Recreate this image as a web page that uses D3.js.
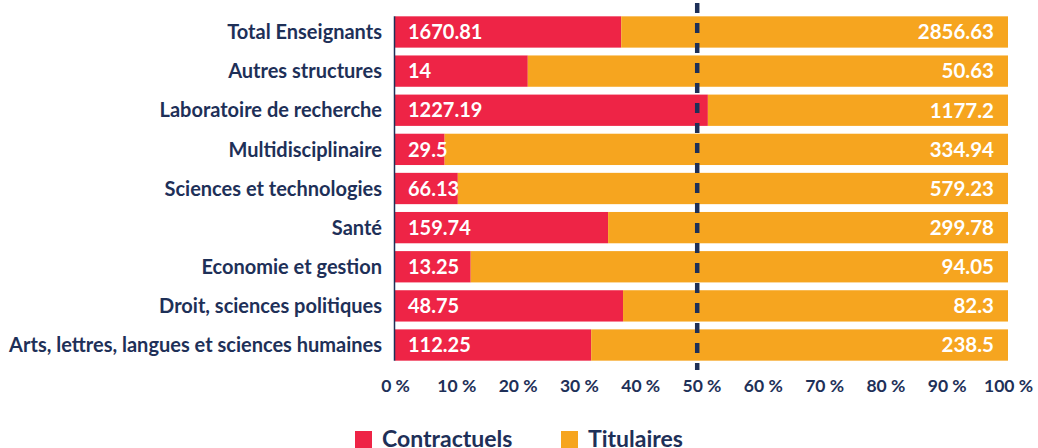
<!DOCTYPE html>
<html>
<head>
<meta charset="utf-8">
<script src="https://cdn.jsdelivr.net/npm/d3@7"></script>
<style>
  html, body { margin: 0; padding: 0; background: #fff; }
  svg { display: block; font-family: Lato, "Open Sans", sans-serif; }
</style>
</head>
<body>
<svg id="chart" width="1038" height="448"></svg>
<script>
const categories = [
  "Total Enseignants",
  "Autres structures",
  "Laboratoire de recherche",
  "Multidisciplinaire",
  "Sciences et technologies",
  "Santé",
  "Economie et gestion",
  "Droit, sciences politiques",
  "Arts, lettres, langues et sciences humaines"
];
const contractuels = [1670.81, 14, 1227.19, 29.5, 66.13, 159.74, 13.25, 48.75, 112.25];
const titulaires   = [2856.63, 50.63, 1177.2, 334.94, 579.23, 299.78, 94.05, 82.3, 238.5];
const seriesNames = ["Contractuels", "Titulaires"];
const tickValues = [0, 0.1, 0.2, 0.3, 0.4, 0.5, 0.6, 0.7, 0.8, 0.9, 1];
const referenceValue = 0.493;

const colors = { Contractuels: "#EE2446", Titulaires: "#F6A51F" };
const navy = "#1E3058";

const rows = categories.map((c, i) => ({ category: c, Contractuels: contractuels[i], Titulaires: titulaires[i] }));
const stacked = d3.stack().keys(seriesNames).offset(d3.stackOffsetExpand)(rows);

const svg = d3.select("#chart");
const x = d3.scaleLinear().domain([0, 1]).range([395, 1008]);
const y = d3.scaleBand().domain(categories).range([8.5, 368.5]).padding(0.2);

// bars
const layers = svg.append("g").selectAll("g").data(stacked).join("g")
  .attr("fill", d => colors[d.key]);
layers.selectAll("rect").data(d => d).join("rect")
  .attr("x", d => x(d[0]))
  .attr("y", d => y(d.data.category))
  .attr("width", d => x(d[1]) - x(d[0]))
  .attr("height", y.bandwidth());

// value labels
const fmt = v => String(v);
svg.append("g").selectAll("text").data(rows).join("text")
  .attr("x", x(0) + 13)
  .attr("y", d => y(d.category) + y.bandwidth() / 2)
  .attr("dy", "0.36em")
  .attr("fill", "#fff")
  .attr("font-size", 20)
  .attr("font-weight", 700)
  .text(d => fmt(d.Contractuels));
svg.append("g").selectAll("text").data(rows).join("text")
  .attr("x", x(1) - 14)
  .attr("y", d => y(d.category) + y.bandwidth() / 2)
  .attr("dy", "0.36em")
  .attr("text-anchor", "end")
  .attr("fill", "#fff")
  .attr("font-size", 20.5)
  .attr("font-weight", 700)
  .text(d => fmt(d.Titulaires));

// category labels
svg.append("g").selectAll("text").data(categories).join("text")
  .attr("x", 382)
  .attr("y", d => y(d) + y.bandwidth() / 2)
  .attr("dy", "0.36em")
  .attr("text-anchor", "end")
  .attr("fill", navy)
  .attr("font-size", 20)
  .attr("font-weight", 700)
  .text(d => d);

// left axis line
svg.append("line")
  .attr("x1", x(0) - 0.5).attr("x2", x(0) - 0.5)
  .attr("y1", y(categories[0])).attr("y2", y(categories[categories.length - 1]) + y.bandwidth())
  .attr("stroke", navy).attr("stroke-width", 1.5);

// reference dashed line
svg.append("line")
  .attr("x1", x(referenceValue)).attr("x2", x(referenceValue))
  .attr("y1", 3).attr("y2", 370)
  .attr("stroke", navy).attr("stroke-width", 4.5)
  .attr("stroke-dasharray", "10,10");

// bottom axis
const xAxis = d3.axisBottom(x).tickValues(tickValues).tickSize(0)
  .tickFormat(d => Math.round(d * 100) + " %");
const ax = svg.append("g").attr("transform", "translate(0,368)").call(xAxis);
ax.select(".domain").remove();
ax.selectAll("text")
  .attr("y", 24).attr("dy", 0)
  .attr("fill", navy)
  .attr("font-size", 17.5)
  .attr("font-weight", 700)
  .attr("font-family", "Lato, 'Open Sans', sans-serif");

// legend
const legendX = [355, 561];
const lg = svg.append("g").selectAll("g").data(seriesNames).join("g")
  .attr("transform", (d, i) => `translate(${legendX[i]},431)`);
lg.append("rect").attr("width", 17).attr("height", 17).attr("fill", d => colors[d]);
lg.append("text")
  .attr("x", 27).attr("y", 16)
  .attr("fill", navy)
  .attr("font-size", 23)
  .attr("font-weight", 700)
  .text(d => d);
</script>
</body>
</html>
